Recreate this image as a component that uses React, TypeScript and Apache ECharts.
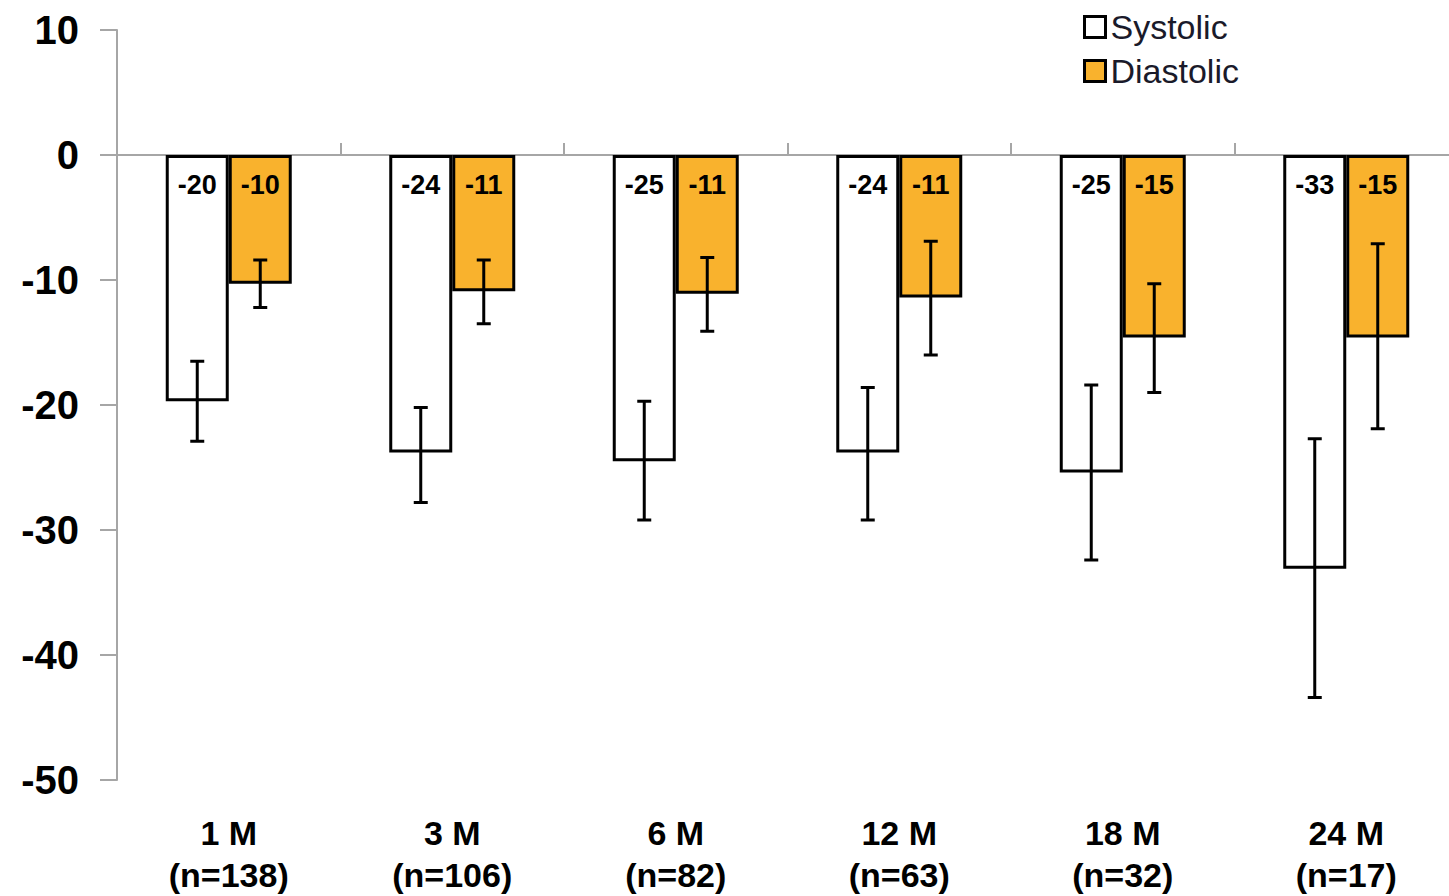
import React, { useEffect, useRef } from "react";
import * as echarts from "echarts";

const categories = ["1 M\n(n=138)", "3 M\n(n=106)", "6 M\n(n=82)", "12 M\n(n=63)", "18 M\n(n=32)", "24 M\n(n=17)"];
const systolic = [-19.7, -23.8, -24.5, -23.8, -25.4, -33.1];
const diastolic = [-10.3, -10.9, -11.1, -11.4, -14.6, -14.6];
const systolicLabels = ["-20", "-24", "-25", "-24", "-25", "-33"];
const diastolicLabels = ["-10", "-11", "-11", "-11", "-15", "-15"];
const systolicErrLow = [-22.9, -27.8, -29.2, -29.2, -32.4, -43.4];
const systolicErrHigh = [-16.5, -20.2, -19.7, -18.6, -18.4, -22.7];
const diastolicErrLow = [-12.2, -13.5, -14.1, -16.0, -19.0, -21.9];
const diastolicErrHigh = [-8.4, -8.4, -8.2, -6.9, -10.3, -7.1];

const FONT = "Arial, 'Liberation Sans', sans-serif";
const ORANGE = "#F9B22D";
const BAR_W = 63;

export default function App() {
  const ref = useRef<HTMLDivElement>(null);
  useEffect(() => {
    if (!ref.current) return;
    const chart = echarts.init(ref.current, null, { renderer: "svg" });

    const errRender = (offset: number) => (params: any, api: any) => {
      const idx = api.value(0);
      const lo = api.coord([idx, api.value(1)]);
      const hi = api.coord([idx, api.value(2)]);
      const x = lo[0] + offset;
      const cap = 7;
      const style = { stroke: "#000", lineWidth: 3 };
      return {
        type: "group",
        children: [
          { type: "line", shape: { x1: x, y1: lo[1], x2: x, y2: hi[1] }, style },
          { type: "line", shape: { x1: x - cap, y1: lo[1], x2: x + cap, y2: lo[1] }, style },
          { type: "line", shape: { x1: x - cap, y1: hi[1], x2: x + cap, y2: hi[1] }, style },
        ],
      };
    };

    const labelStyle = {
      show: true,
      position: "insideTop" as const,
      distance: 16,
      fontFamily: FONT,
      fontWeight: "bold" as const,
      fontSize: 27,
      color: "#000",
    };

    chart.setOption({
      animation: false,
      textStyle: { fontFamily: FONT },
      grid: { left: 117, right: 0, top: 30, bottom: 113 },
      legend: {
        orient: "vertical",
        left: 1078,
        top: 5,
        itemWidth: 21,
        itemHeight: 21,
        itemGap: 10,
        icon: "rect",
        textStyle: { fontFamily: FONT, fontSize: 34, lineHeight: 34, color: "#1a1a2a", padding: [0, 0, 0, 0] },
        data: [
          { name: "Systolic", itemStyle: { color: "#fff", borderColor: "#000", borderWidth: 3 } },
          { name: "Diastolic", itemStyle: { color: ORANGE, borderColor: "#000", borderWidth: 3 } },
        ],
      },
      xAxis: [
        {
          type: "category",
          data: categories,
          position: "bottom",
          axisLine: { show: false },
          axisTick: { show: false },
          axisLabel: {
            fontFamily: FONT,
            fontWeight: "bold",
            fontSize: 34,
            color: "#000",
            lineHeight: 42,
            margin: 32,
          },
        },
        {
          type: "category",
          data: categories,
          position: "bottom",
          axisLine: { show: true, onZero: true, onZeroAxisIndex: 0, lineStyle: { color: "#a6a6a6", width: 2 } },
          axisTick: { show: true, inside: true, length: 12, lineStyle: { color: "#a6a6a6", width: 2 } },
          axisLabel: { show: false },
        },
      ],
      yAxis: {
        type: "value",
        min: -50,
        max: 10,
        interval: 10,
        splitLine: { show: false },
        axisLine: { show: true, lineStyle: { color: "#a6a6a6", width: 2 } },
        axisTick: { show: true, length: 17, lineStyle: { color: "#a6a6a6", width: 2 } },
        axisLabel: {
          fontFamily: FONT,
          fontWeight: "bold",
          fontSize: 40,
          color: "#000",
          margin: 38,
        },
      },
      series: [
        {
          name: "Systolic",
          type: "bar",
          data: systolic,
          barWidth: BAR_W,
          barGap: "0%",
          itemStyle: { color: "#fff", borderColor: "#000", borderWidth: 3 },
          label: { ...labelStyle, formatter: (p: any) => systolicLabels[p.dataIndex] },
        },
        {
          name: "Diastolic",
          type: "bar",
          data: diastolic,
          barWidth: BAR_W,
          barGap: "0%",
          itemStyle: { color: ORANGE, borderColor: "#000", borderWidth: 3 },
          label: { ...labelStyle, formatter: (p: any) => diastolicLabels[p.dataIndex] },
        },
        {
          type: "custom",
          name: "sysErr",
          renderItem: errRender(-BAR_W / 2),
          data: categories.map((_, i) => [i, systolicErrLow[i], systolicErrHigh[i]]),
          z: 5,
        },
        {
          type: "custom",
          name: "diaErr",
          renderItem: errRender(BAR_W / 2),
          data: categories.map((_, i) => [i, diastolicErrLow[i], diastolicErrHigh[i]]),
          z: 5,
        },
      ],
    });
    return () => chart.dispose();
  }, []);
  return (
    <div
      style={{ position: "fixed", left: 0, top: 0, width: 1449, height: 896, overflow: "hidden", background: "#fff" }}
    >
      <div ref={ref} style={{ width: 1458, height: 896 }} />
    </div>
  );
}
